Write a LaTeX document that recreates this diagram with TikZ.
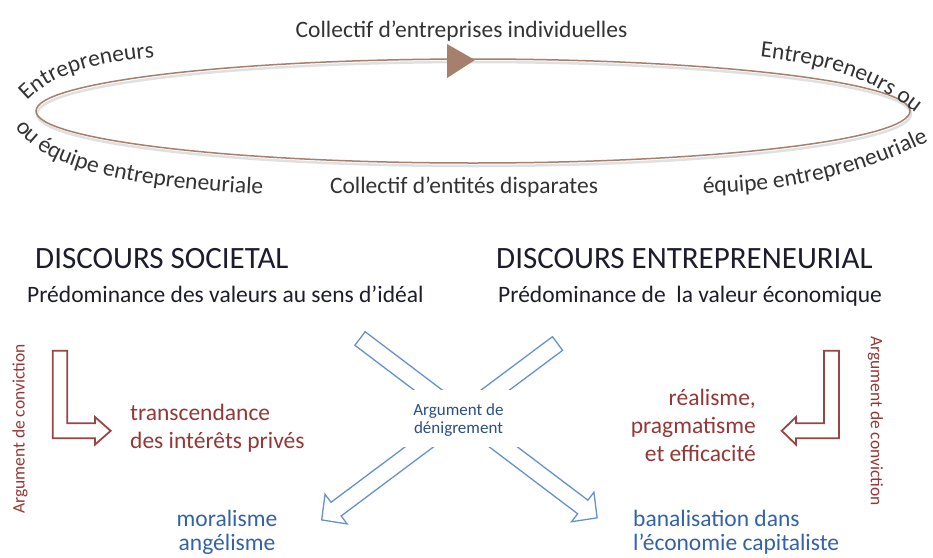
\documentclass[tikz,border=0pt]{standalone}
\usepackage{fontspec}
\setmainfont{Carlito}
\usetikzlibrary{decorations.text}
\definecolor{ellcol}{HTML}{A67F6D}
\definecolor{elltext}{HTML}{333333}
\definecolor{headcol}{HTML}{1C1C2C}
\definecolor{redtxt}{HTML}{953735}
\definecolor{redline}{HTML}{9A4545}
\definecolor{bluetxt}{HTML}{3462A6}
\definecolor{blueline}{HTML}{6592CC}
\definecolor{labelblue}{HTML}{2A4F85}
\newcommand{\bodyfs}{\fontsize{23.5}{28}\selectfont}
\newcommand{\headfs}{\fontsize{31}{36}\selectfont}
\begin{document}
\begin{tikzpicture}[x=1pt,y=1pt,
  lbl/.style={inner sep=0pt, text=elltext, font=\bodyfs},
  headtxt/.style={inner sep=0pt, text=headcol, font=\headfs, anchor=base west},
  subtxt/.style={inner sep=0pt, text=headcol, font=\bodyfs, anchor=base west},
  redtext/.style={inner sep=0pt, text=redtxt, font=\bodyfs},
  bluetext/.style={inner sep=0pt, text=bluetxt, font={\fontsize{23.5}{23.5}\selectfont}},
  convlabel/.style={inner sep=0pt, text=redtxt, font={\fontsize{17.5}{20}\selectfont}},
  redarrow/.style={draw=redline, line width=1.8pt, fill=white, line join=miter},
  bluearrow/.style={draw=blueline, line width=1.3pt, line join=miter},
]
\useasboundingbox (0,0) rectangle (933,-557);

% ellipse cycle
\draw[black!12, line width=2.5pt] (474,-114) ellipse [x radius=437pt, y radius=52pt];
\draw[ellcol, line width=1.5pt] (473,-111) ellipse [x radius=437pt, y radius=52pt];
\fill[ellcol] (447,-44) -- (475,-60) -- (447,-78) -- cycle;

\node[lbl, anchor=base] (ctop) at (461.5,-37) {Collectif d’entreprises individuelles};
\node[lbl, anchor=base] (cbot) at (464,-193) {Collectif d’entités disparates};

\path[decorate, decoration={text along path, text align=left,
  text={|\bodyfs\color{elltext}|Entrepreneurs}}]
  (27,-101) .. controls (55,-72) and (100,-60) .. (185,-55);
\path[decorate, decoration={text along path, text align=left,
  text={|\bodyfs\color{elltext}|ou équipe entrepreneuriale}}]
  (15,-127) .. controls (40,-165) and (120,-192) .. (310,-196);
\path[decorate, decoration={text along path, text align=left,
  text={|\bodyfs\color{elltext}|Entrepreneurs ou}}]
  (760,-57) .. controls (830,-65) and (880,-80) .. (930,-125);
\path[decorate, decoration={text along path, text align=left,
  text={|\bodyfs\color{elltext}|équipe entrepreneuriale}}]
  (703,-193) .. controls (790,-192) and (870,-175) .. (960,-125);

% headings
\node[headtxt] (hl) at (35,-268) {DISCOURS SOCIETAL};
\node[headtxt] (hr) at (496,-268) {DISCOURS ENTREPRENEURIAL};
\node[subtxt] (sl) at (27,-302) {Prédominance des valeurs au sens d’idéal};
\node[subtxt] (sr) at (498,-302) {Prédominance de \ la valeur économique};

% conviction arrows
\draw[redarrow] (52.7,-350.7) -- (67.3,-350.7) -- (67.3,-423.3) -- (95,-423.3)
  -- (95,-417) -- (110.7,-430.8) -- (95,-444.6) -- (95,-438.3) -- (52.7,-438.3) -- cycle;
\draw[redarrow] (839,-350.7) -- (824,-350.7) -- (824,-423.3) -- (796,-423.3)
  -- (796,-417) -- (781.7,-430.8) -- (796,-444.6) -- (796,-438.3) -- (839,-438.3) -- cycle;
\node[convlabel, rotate=90] (cvl) at (20,-429) {Argument de conviction};
\node[convlabel, rotate=-90] (cvr) at (875.5,-421) {Argument de conviction};

\node[redtext, align=left, anchor=north west] (tr) at (130,-403.5)
  {transcendance\\des intérêts privés};
\node[redtext, align=right, anchor=north east] (re) at (756,-389)
  {réalisme,\\pragmatisme\\et efficacité};

% denigration arrows
\begin{scope}[shift={(360,-338.5)}, rotate=-37.1]
  \draw[bluearrow] (0,-8.5) -- (279.3,-8.5) -- (279.3,-18.5) -- (297.3,0)
    -- (279.3,18.5) -- (279.3,8.5) -- (0,8.5) -- cycle;
\end{scope}
\begin{scope}[shift={(557.5,-343.5)}, rotate=-143.2]
  \draw[bluearrow] (0,-8.5) -- (276.5,-8.5) -- (276.5,-18.5) -- (294.5,0)
    -- (276.5,18.5) -- (276.5,8.5) -- (0,8.5) -- cycle;
\end{scope}
\fill[white] (402,-390) rectangle (524,-447);
\node[inner sep=0pt, align=center, text=labelblue, font={\fontsize{17}{17.5}\selectfont}]
  (den) at (458.5,-420) {Argument de\\dénigrement};

\node[bluetext, align=center, anchor=north] (mo) at (227,-510) {moralisme\\angélisme};
\node[bluetext, align=left, anchor=north west] (ba) at (633,-510)
  {banalisation dans\\l’économie capitaliste};
\end{tikzpicture}
\end{document}
